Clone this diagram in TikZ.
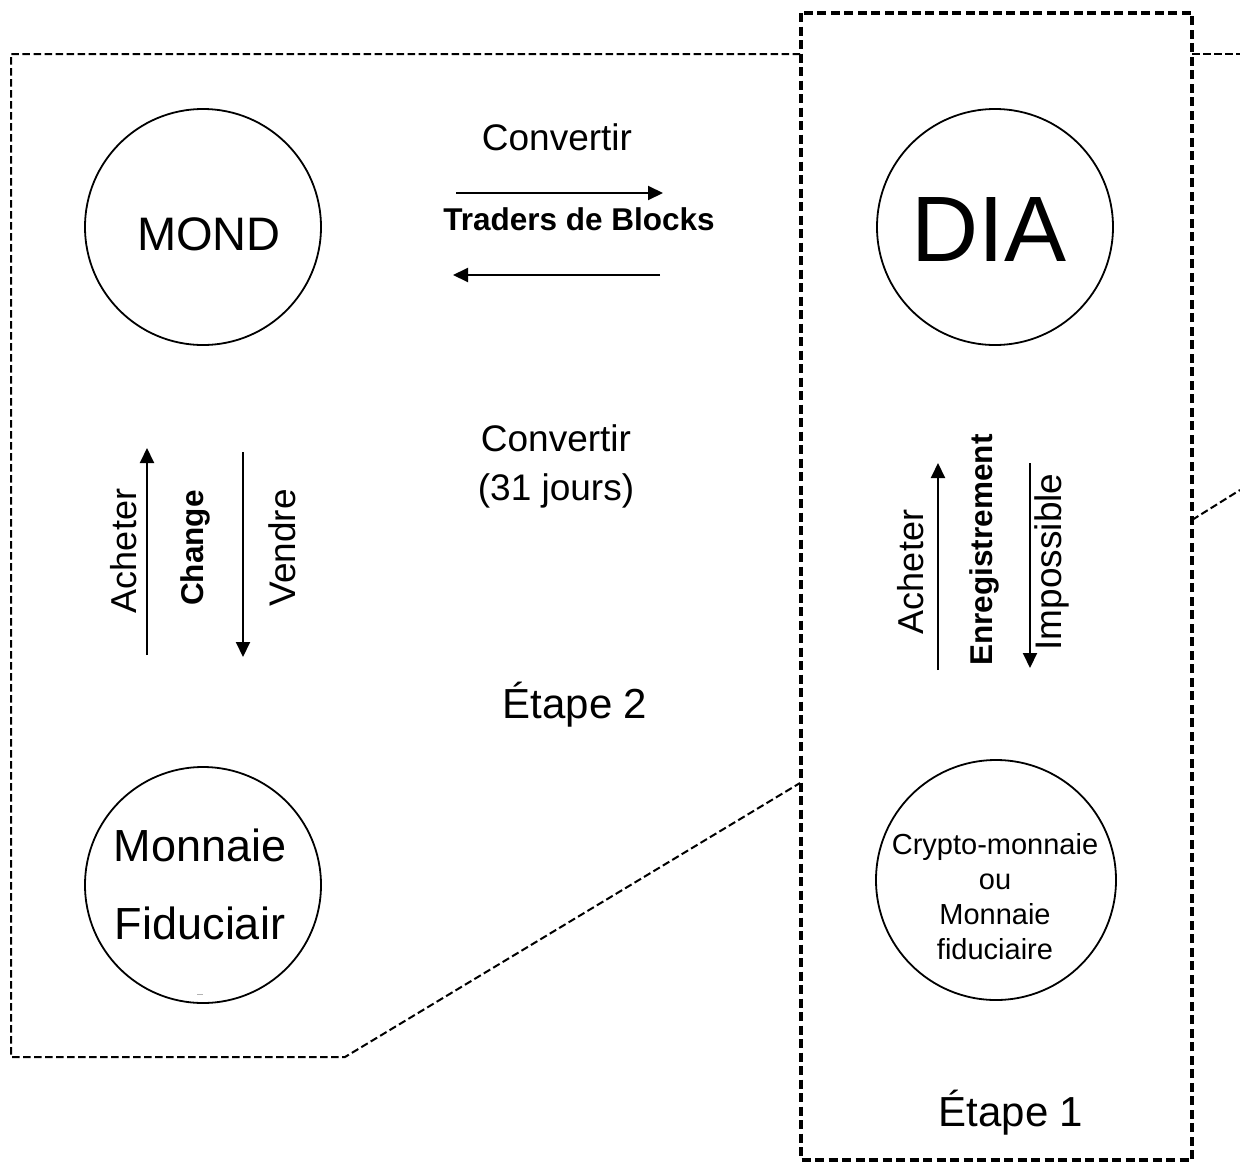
\documentclass[tikz,border=0pt]{standalone}
\usepackage{fontspec}
\setmainfont{Liberation Sans}
\usetikzlibrary{arrows.meta}
\tikzset{
  outerline/.style={line width=2pt, dash pattern=on 7.5pt off 3.5pt},
  boxline/.style={line width=3.5pt, dash pattern=on 9pt off 4.5pt},
  bubble/.style={circle, draw, line width=1.8pt, minimum size=236pt, inner sep=0pt},
  flow/.style={line width=2pt, -{Triangle[length=15pt,width=14pt]}},
  lbl/.style={inner sep=0pt, font=\fontsize{37}{44}\selectfont},
  vlbl/.style={inner sep=0pt, rotate=90, font=\fontsize{36}{43}\selectfont},
  blbl/.style={inner sep=0pt, font=\fontsize{31.5}{38}\selectfont\bfseries},
  big/.style={inner sep=0pt, font=\fontsize{42}{50}\selectfont}
}
\begin{document}
\begin{tikzpicture}[x=1pt,y=-1pt]
\useasboundingbox (0,0) rectangle (1240,1165);
% outer dashed outline
\coordinate (o1) at (800,54);
\coordinate (o2) at (11,54);
\coordinate (o3) at (11,1057);
\coordinate (o4) at (345,1057);
\coordinate (o5) at (800,783);
\coordinate (o6) at (1192,54);
\coordinate (o7) at (1240,54);
\coordinate (o8) at (1192,520);
\coordinate (o9) at (1240,490);
\draw[outerline] (o1) -- (o2) -- (o3) -- (o4) -- (o5);
\draw[outerline] (o6) -- (o7);
\draw[outerline] (o8) -- (o9);
% stage 1 box
\coordinate (bx1) at (801,13);
\coordinate (bx2) at (1192,1160);
\draw[boxline] (bx1) rectangle (bx2);
% circles
\node[bubble] (mond) at (203,227) {};
\node[bubble] (dia) at (995,227) {};
\node[bubble] (fiat) at (203,885) {};
\node[bubble, minimum size=240pt] (crypto) at (996,880) {};
\node[inner sep=0pt, font=\fontsize{47}{56}\selectfont] (mondt) at (209,234) {MOND};
\node[inner sep=0pt, font=\fontsize{93}{100}\selectfont] (diat) at (989,230) {DIA};
\node[inner sep=0pt, align=center, font=\fontsize{45}{78}\selectfont] (fiatt) at (200,884) {Monnaie\\Fiduciair};
\node[inner sep=0pt, align=center, font=\fontsize{29}{35}\selectfont] (cryptot) at (995,897) {Crypto-monnaie\\ou\\Monnaie\\fiduciaire};
\coordinate (m1) at (197,994);
\coordinate (m2) at (203,994);
\draw[gray!60, line width=0.8pt] (m1) -- (m2);
% top labels and arrows
\node[lbl] (conv1) at (557,137) {Convertir};
\node[blbl] (traders) at (579,219) {Traders de Blocks};
\coordinate (t1) at (456,193);
\coordinate (t2) at (663,193);
\draw[flow] (t1) -- (t2);
\coordinate (b1) at (660,275);
\coordinate (b2) at (453,275);
\draw[flow] (b1) -- (b2);
\node[lbl, align=center, font=\fontsize{37}{49}\selectfont] (conv2) at (556,466) {Convertir\\(31 jours)};
% left vertical
\node[vlbl] (ach1) at (124,551) {Acheter};
\node[blbl, rotate=90] (chg) at (195,548) {Change};
\node[vlbl, font=\fontsize{37}{44}\selectfont] (vend) at (282,548) {Vendre};
\coordinate (lu1) at (147,655);
\coordinate (lu2) at (147,448);
\draw[flow] (lu1) -- (lu2);
\coordinate (ld1) at (243,452);
\coordinate (ld2) at (243,657);
\draw[flow] (ld1) -- (ld2);
% right vertical
\node[vlbl] (ach2) at (911,572) {Acheter};
\node[blbl, rotate=90] (enr) at (984,550) {Enregistrement};
\node[vlbl, font=\fontsize{37}{44}\selectfont] (imp) at (1052,562) {Impossible};
\coordinate (ru1) at (938,670);
\coordinate (ru2) at (938,463);
\draw[flow] (ru1) -- (ru2);
\coordinate (rd1) at (1030,463);
\coordinate (rd2) at (1030,668);
\draw[flow] (rd1) -- (rd2);
% stage labels
\node[big] (et2) at (575,705) {Étape 2};
\node[big] (et1) at (1011,1113) {Étape 1};
\end{tikzpicture}
\end{document}
